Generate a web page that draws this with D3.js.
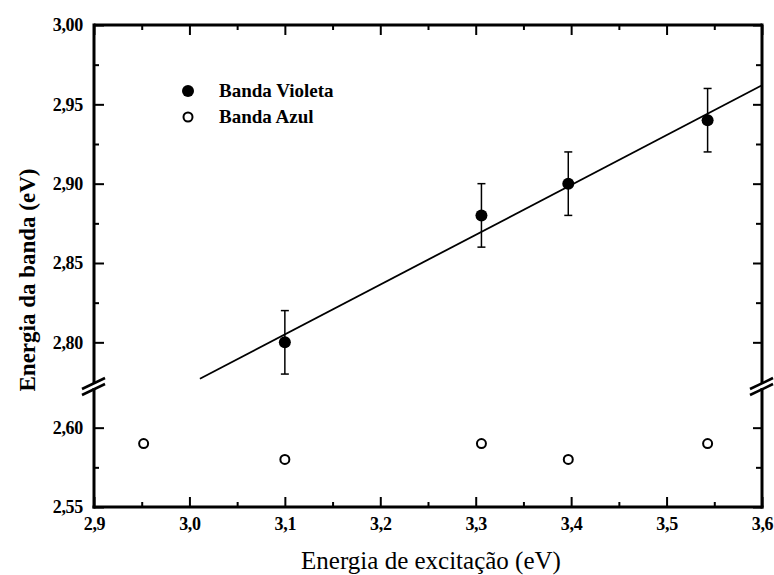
<!DOCTYPE html>
<html>
<head>
<meta charset="utf-8">
<script src="https://cdn.jsdelivr.net/npm/d3@7"></script>
</head>
<body style="margin:0;background:#fff">
<svg id="chart" width="774" height="575" style="display:block"></svg>
<script>
// ---------- data ----------
const violetX = [3.100, 3.306, 3.397, 3.543];
const violetY = [2.80, 2.88, 2.90, 2.94];
const violetErr = [0.02, 0.02, 0.02, 0.02];
const blueX = [2.952, 3.100, 3.306, 3.397, 3.543];
const blueY = [2.59, 2.58, 2.59, 2.58, 2.59];
const fitX = [3.011, 3.600];
const fitY = [2.777, 2.962];
const xTicks = [2.9, 3.0, 3.1, 3.2, 3.3, 3.4, 3.5, 3.6];
const xMinor = [2.95, 3.05, 3.15, 3.25, 3.35, 3.45, 3.55];
const yTopTicks = [2.80, 2.85, 2.90, 2.95, 3.00];
const yTopMinor = [2.825, 2.875, 2.925, 2.975];
const yBotTicks = [2.55, 2.60];
const yBotMinor = [2.575];
const legendLabels = ["Banda Violeta", "Banda Azul"];
const xTitle = "Energia de excitação (eV)";
const yTitle = "Energia da banda (eV)";

// ---------- layout ----------
const FONT = "Liberation Serif";
const L = 94, R = 762, T = 25, B = 507;
const breakTopY = 382, breakBotY = 388;
const svg = d3.select("#chart");

const x = d3.scaleLinear().domain([2.9, 3.6]).range([L, R]);
const yTop = d3.scaleLinear().domain([2.775, 3.0]).range([breakTopY, T]);
const yBot = d3.scaleLinear().domain([2.55, 2.625]).range([B, breakBotY]);
const y = v => v >= 2.7 ? yTop(v) : yBot(v);

const g = svg.append("g");

function styleAxis(sel) {
  sel.attr("font-family", FONT);
  sel.select(".domain").remove();
  sel.selectAll(".tick line").attr("stroke", "#000").attr("stroke-width", 2);
  sel.selectAll(".tick text")
    .style("font-family", FONT)
    .style("font-weight", "bold")
    .style("font-size", "18px")
    .style("letter-spacing", "-0.3px")
    .attr("fill", "#000");
}

// bottom axis
g.append("g").attr("transform", `translate(0,${B})`)
  .call(d3.axisBottom(x).tickValues(xTicks).tickSize(-10).tickPadding(10)
        .tickFormat(d => d.toFixed(1).replace(".", ",")))
  .call(styleAxis);
g.append("g").attr("transform", `translate(0,${B})`)
  .call(d3.axisBottom(x).tickValues(xMinor).tickSize(-5).tickFormat(""))
  .call(styleAxis);
// top axis
g.append("g").attr("transform", `translate(0,${T})`)
  .call(d3.axisTop(x).tickValues(xTicks).tickSize(-10).tickFormat(""))
  .call(styleAxis);
g.append("g").attr("transform", `translate(0,${T})`)
  .call(d3.axisTop(x).tickValues(xMinor).tickSize(-5).tickFormat(""))
  .call(styleAxis);

// left / right axes (two segments)
const yFmt = d => d.toFixed(2).replace(".", ",");
[[yTop, yTopTicks, yTopMinor], [yBot, yBotTicks, yBotMinor]].forEach(([sc, maj, mn]) => {
  g.append("g").attr("transform", `translate(${L},0)`)
    .call(d3.axisLeft(sc).tickValues(maj).tickSize(-10).tickPadding(11).tickFormat(yFmt))
    .call(styleAxis);
  g.append("g").attr("transform", `translate(${L},0)`)
    .call(d3.axisLeft(sc).tickValues(mn).tickSize(-5).tickFormat(""))
    .call(styleAxis);
  g.append("g").attr("transform", `translate(${R},0)`)
    .call(d3.axisRight(sc).tickValues(maj).tickSize(-9).tickFormat(""))
    .call(styleAxis);
  g.append("g").attr("transform", `translate(${R},0)`)
    .call(d3.axisRight(sc).tickValues(mn).tickSize(-6).tickFormat(""))
    .call(styleAxis);
});

// frame
const frame = g.append("g").attr("stroke", "#000").attr("stroke-width", 3).attr("fill", "none");
frame.append("line").attr("x1", L).attr("x2", R).attr("y1", T).attr("y2", T);
frame.append("line").attr("x1", L - 1.5).attr("x2", R + 1.5).attr("y1", B).attr("y2", B);
[L, R].forEach(xx => {
  frame.append("line").attr("x1", xx).attr("x2", xx).attr("y1", T - 1.5).attr("y2", 383);
  frame.append("line").attr("x1", xx).attr("x2", xx).attr("y1", 388).attr("y2", B + 1.5);
  frame.append("line").attr("x1", xx - 12).attr("y1", 389).attr("x2", xx + 11).attr("y2", 378)
    .attr("stroke-width", 2.5);
  frame.append("line").attr("x1", xx - 12).attr("y1", 395).attr("x2", xx + 11).attr("y2", 384)
    .attr("stroke-width", 2.5);
});

// fit line
g.append("path")
  .datum(fitX.map((d, i) => [d, fitY[i]]))
  .attr("fill", "none").attr("stroke", "#000").attr("stroke-width", 1.8)
  .attr("d", d3.line().x(d => x(d[0])).y(d => y(d[1])));

// error bars
const eb = g.append("g").attr("stroke", "#000").attr("stroke-width", 1.5);
violetX.forEach((vx, i) => {
  const cx = x(vx), y1 = y(violetY[i] + violetErr[i]), y2 = y(violetY[i] - violetErr[i]);
  eb.append("line").attr("x1", cx).attr("x2", cx).attr("y1", y1).attr("y2", y2);
  eb.append("line").attr("x1", cx - 4).attr("x2", cx + 4).attr("y1", y1).attr("y2", y1);
  eb.append("line").attr("x1", cx - 4).attr("x2", cx + 4).attr("y1", y2).attr("y2", y2);
});

// violet points
g.selectAll(".vp").data(violetX).join("circle")
  .attr("cx", d => x(d)).attr("cy", (d, i) => y(violetY[i])).attr("r", 6).attr("fill", "#000");
// blue points
g.selectAll(".bp").data(blueX).join("circle")
  .attr("cx", d => x(d)).attr("cy", (d, i) => y(blueY[i])).attr("r", 4.5)
  .attr("fill", "#fff").attr("stroke", "#000").attr("stroke-width", 2);

// legend
const lg = svg.append("g");
lg.append("circle").attr("cx", 188).attr("cy", 91).attr("r", 6).attr("fill", "#000");
lg.append("circle").attr("cx", 188).attr("cy", 117).attr("r", 4.5).attr("fill", "#fff")
  .attr("stroke", "#000").attr("stroke-width", 2);
legendLabels.forEach((t, i) => {
  lg.append("text").attr("x", 219).attr("y", 97 + i * 26)
    .style("font-family", FONT)
    .style("font-weight", "bold").style("font-size", "19px")
    .text(t);
});

// titles
svg.append("text").attr("x", (L + R) / 2 + 3).attr("y", 569).attr("text-anchor", "middle")
  .style("font-family", FONT).style("font-size", "25px").text(xTitle);
svg.append("text").attr("transform", `translate(35,${(T + B) / 2 + 14}) rotate(-90)`)
  .attr("text-anchor", "middle")
  .style("font-family", FONT).style("font-size", "23px").style("font-weight", "bold")
  .text(yTitle);
</script>
</body>
</html>
